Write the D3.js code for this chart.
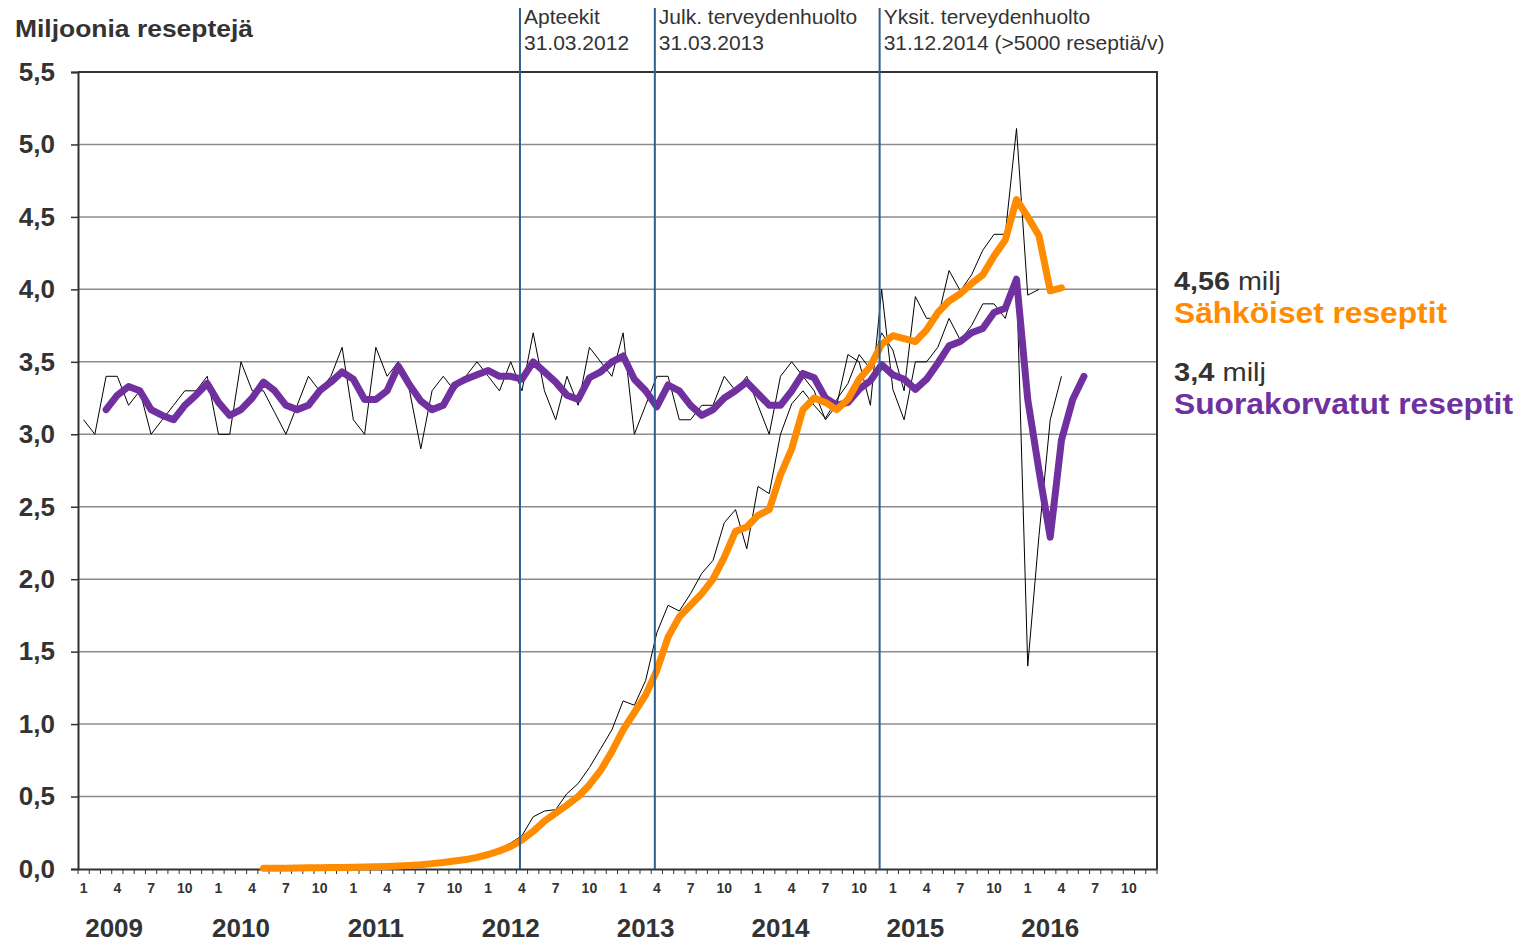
<!DOCTYPE html>
<html>
<head>
<meta charset="utf-8">
<script src="https://cdn.jsdelivr.net/npm/d3@7"></script>
<style>
  body { margin: 0; background: #fff; }
  svg { font-family: "Liberation Sans", Arial, sans-serif; }
</style>
</head>
<body>
<div id="chart"></div>
<script>
// months run from 2009-01 (index 0) to 2016-12 (index 95)
const years = [2009, 2010, 2011, 2012, 2013, 2014, 2015, 2016];
const monthTicks = [1, 4, 7, 10];
const yTicks = [0, 0.5, 1, 1.5, 2, 2.5, 3, 3.5, 4, 4.5, 5, 5.5];

// suorakorvatut reseptit, monthly (thin black) from 2009-01
const suoraMonthly = [
  3.1, 3.0, 3.4, 3.4, 3.2, 3.3, 3.0, 3.1, 3.2, 3.3, 3.3, 3.4,
  3.0, 3.0, 3.5, 3.3, 3.3, 3.15, 3.0, 3.2, 3.4, 3.3, 3.4, 3.6,
  3.1, 3.0, 3.6, 3.4, 3.5, 3.3, 2.9, 3.3, 3.4, 3.3, 3.4, 3.5,
  3.4, 3.3, 3.5, 3.3, 3.7, 3.3, 3.1, 3.4, 3.2, 3.6, 3.5, 3.4,
  3.7, 3.0, 3.2, 3.4, 3.4, 3.1, 3.1, 3.2, 3.2, 3.4, 3.3, 3.4,
  3.2, 3.0, 3.4, 3.5, 3.4, 3.3, 3.1, 3.2, 3.55, 3.5, 3.2, 4.0,
  3.31, 3.1, 3.5, 3.5, 3.6, 3.8, 3.65, 3.75, 3.9, 3.9, 3.8, 4.08,
  1.4, 2.3, 3.1, 3.4
];
const suoraMonthlyStart = 0;

// suorakorvatut reseptit, trend (thick purple) from 2009-03
const suoraTrend = [
  3.17, 3.27, 3.33, 3.30, 3.17, 3.13, 3.10, 3.20, 3.27, 3.35,
  3.22, 3.13, 3.17, 3.25, 3.36, 3.30, 3.20, 3.17, 3.20, 3.30, 3.36, 3.43,
  3.38, 3.24, 3.24, 3.30, 3.47, 3.34, 3.23, 3.17, 3.20, 3.34, 3.38, 3.41,
  3.44, 3.40, 3.40, 3.38, 3.50, 3.43, 3.36, 3.27, 3.24, 3.39, 3.43, 3.50,
  3.54, 3.38, 3.30, 3.19, 3.34, 3.30, 3.20, 3.13, 3.17, 3.25, 3.30, 3.36,
  3.28, 3.20, 3.20, 3.30, 3.42, 3.39, 3.25, 3.20, 3.22, 3.31, 3.37, 3.48,
  3.41, 3.38, 3.31, 3.38, 3.49, 3.61, 3.64, 3.70, 3.73, 3.84, 3.87, 4.07,
  3.24, 2.75, 2.29, 2.96, 3.24, 3.40
];
const suoraTrendStart = 2;

// sähköiset reseptit, monthly (thin black) from 2011-08
const sahkoMonthly = [
  0.03, 0.04, 0.05, 0.06, 0.08,
  0.10, 0.14, 0.18, 0.23, 0.36, 0.40, 0.41, 0.52, 0.59, 0.70, 0.83, 0.96,
  1.16, 1.13, 1.30, 1.63, 1.82, 1.78, 1.90, 2.04, 2.13, 2.39, 2.48, 2.21,
  2.64, 2.59, 3.00, 3.21, 3.30, 3.20, 3.11, 3.24, 3.35, 3.55, 3.45, 3.70,
  3.58, 3.30, 3.95, 3.80, 3.80, 4.13, 3.99, 4.10, 4.27, 4.38, 4.38, 5.11,
  3.96, 4.00
];
const sahkoMonthlyStart = 31;

// sähköiset reseptit, trend (thick orange) from 2010-05
const sahkoTrend = [
  0.005, 0.005, 0.006, 0.007, 0.008, 0.009, 0.010, 0.011,
  0.012, 0.014, 0.016, 0.018, 0.021, 0.025, 0.030, 0.037, 0.045, 0.055, 0.065, 0.08,
  0.10, 0.125, 0.155, 0.20, 0.26, 0.33, 0.385, 0.44, 0.50, 0.58, 0.68, 0.81,
  0.96, 1.08, 1.20, 1.37, 1.60, 1.74, 1.82, 1.90, 2.00, 2.15, 2.33, 2.36,
  2.44, 2.48, 2.72, 2.90, 3.17, 3.25, 3.22, 3.17, 3.24, 3.38, 3.47, 3.62,
  3.68, 3.66, 3.64, 3.72, 3.84, 3.92, 3.97, 4.04, 4.10, 4.23, 4.34, 4.62,
  4.50, 4.37, 3.99, 4.01
];
const sahkoTrendStart = 16;

const events = [
  { month: 39, lines: ['Apteekit', '31.03.2012'] },
  { month: 51, lines: ['Julk. terveydenhuolto', '31.03.2013'] },
  { month: 71, lines: ['Yksit. terveydenhuolto', '31.12.2014 (>5000 reseptiä/v)'] },
];

const W = 1530, H = 944;
const plotLeft = 78, plotRight = 1157, plotTop = 72, plotBottom = 869;
const textColor = '#333';
const orange = '#ff8c00';
const purple = '#7030a0';
const eventColor = '#2e5f8f';
const fontFamily = '"Liberation Sans", Arial, sans-serif';

const svg = d3.select('#chart').append('svg')
  .attr('width', W).attr('height', H);

const months = d3.range(years.length * 12);
const x = d3.scaleBand().domain(months).range([plotLeft, plotRight]);
const bw = x.bandwidth();
const cx = i => x(i) + bw / 2;
const y = d3.scaleLinear().domain([0, 5.5]).range([plotBottom, plotTop]);

// grid
svg.append('g')
  .selectAll('line')
  .data(yTicks.filter(v => v > 0 && v < 5.5))
  .join('line')
  .attr('x1', plotLeft).attr('x2', plotRight)
  .attr('y1', d => y(d)).attr('y2', d => y(d))
  .attr('stroke', '#8c8c8c').attr('stroke-width', 1.5);

// frame top + right
svg.append('path')
  .attr('d', `M${plotLeft},${plotTop}H${plotRight}V${plotBottom}`)
  .attr('fill', 'none').attr('stroke', textColor).attr('stroke-width', 2);

// y axis
const fmt = d => d3.format('.1f')(d).replace('.', ',');
svg.append('g')
  .attr('transform', `translate(${plotLeft},0)`)
  .call(d3.axisLeft(y).tickValues(yTicks).tickSize(7).tickPadding(16).tickFormat(fmt))
  .call(g => g.select('.domain').attr('stroke', textColor).attr('stroke-width', 2))
  .call(g => g.selectAll('.tick line').attr('stroke', textColor).attr('stroke-width', 1.5))
  .call(g => g.selectAll('text')
    .attr('font-size', 26).attr('font-weight', 'bold').attr('fill', textColor)
    .attr('font-family', fontFamily));

// x axis: month ticks at boundaries
const xb = d3.scaleLinear().domain([0, months.length]).range([plotLeft, plotRight]);
svg.append('g')
  .selectAll('line')
  .data(d3.range(months.length + 1))
  .join('line')
  .attr('x1', d => xb(d)).attr('x2', d => xb(d))
  .attr('y1', plotBottom).attr('y2', plotBottom + 5)
  .attr('stroke', textColor).attr('stroke-width', 1);

const labelled = months.filter(m => monthTicks.includes(m % 12 + 1));
svg.append('g')
  .attr('transform', `translate(0,${plotBottom})`)
  .call(d3.axisBottom(x).tickValues(labelled).tickSize(0).tickPadding(14)
    .tickFormat(m => String(m % 12 + 1)))
  .call(g => g.select('.domain').attr('stroke', textColor).attr('stroke-width', 2))
  .call(g => g.selectAll('text')
    .attr('font-size', 14).attr('font-weight', 'bold').attr('fill', textColor)
    .attr('font-family', fontFamily));

// year labels
svg.append('g')
  .selectAll('text')
  .data(years)
  .join('text')
  .attr('x', (d, i) => cx(i * 12 + 2) + (i === 0 ? 8 : 0))
  .attr('y', 937)
  .attr('text-anchor', 'middle')
  .attr('font-size', 26).attr('font-weight', 'bold').attr('fill', textColor)
  .text(d => d);

// series
const series = (vals, start) => vals.map((v, i) => [cx(start + i), y(v)]);
const line = d3.line();

svg.append('path')
  .attr('d', line(series(suoraMonthly, suoraMonthlyStart)))
  .attr('fill', 'none').attr('stroke', '#000').attr('stroke-width', 1);
svg.append('path')
  .attr('d', line(series(sahkoMonthly, sahkoMonthlyStart)))
  .attr('fill', 'none').attr('stroke', '#000').attr('stroke-width', 1);

svg.append('path')
  .attr('d', line(series(suoraTrend, suoraTrendStart)))
  .attr('fill', 'none').attr('stroke', purple).attr('stroke-width', 7)
  .attr('stroke-linejoin', 'round').attr('stroke-linecap', 'round');
svg.append('path')
  .attr('d', line(series(sahkoTrend, sahkoTrendStart)))
  .attr('fill', 'none').attr('stroke', orange).attr('stroke-width', 7)
  .attr('stroke-linejoin', 'round').attr('stroke-linecap', 'round');

// event lines
const ev = svg.append('g').selectAll('g').data(events).join('g');
ev.append('line')
  .attr('x1', d => cx(d.month) - 2).attr('x2', d => cx(d.month) - 2)
  .attr('y1', 8).attr('y2', plotBottom)
  .attr('stroke', eventColor).attr('stroke-width', 2);
ev.each(function (d) {
  d3.select(this).selectAll('text')
    .data(d.lines)
    .join('text')
    .attr('x', cx(d.month) + 2)
    .attr('y', (t, i) => 24 + i * 26)
    .attr('font-size', 21).attr('fill', textColor)
    .text(t => t);
});

// title
svg.append('text')
  .attr('x', 15).attr('y', 37)
  .attr('font-size', 24).attr('font-weight', 'bold').attr('fill', textColor)
  .attr('textLength', 238).attr('lengthAdjust', 'spacingAndGlyphs')
  .text('Miljoonia reseptejä');

// legend
const legend = [
  { value: '4,56', name: 'Sähköiset reseptit', color: orange, y: 290, w1: 107, w2: 273 },
  { value: '3,4', name: 'Suorakorvatut reseptit', color: purple, y: 381, w1: 92, w2: 339 },
];
const lg = svg.append('g').selectAll('g').data(legend).join('g');
lg.append('text')
  .attr('x', 1174).attr('y', d => d.y)
  .attr('font-size', 26).attr('fill', textColor)
  .attr('textLength', d => d.w1).attr('lengthAdjust', 'spacingAndGlyphs')
  .call(t => t.append('tspan').attr('font-weight', 'bold').text(d => d.value))
  .call(t => t.append('tspan').text(' milj'));
lg.append('text')
  .attr('x', 1174).attr('y', d => d.y + 33)
  .attr('font-size', 30).attr('font-weight', 'bold').attr('fill', d => d.color)
  .attr('textLength', d => d.w2).attr('lengthAdjust', 'spacingAndGlyphs')
  .text(d => d.name);
</script>
</body>
</html>
